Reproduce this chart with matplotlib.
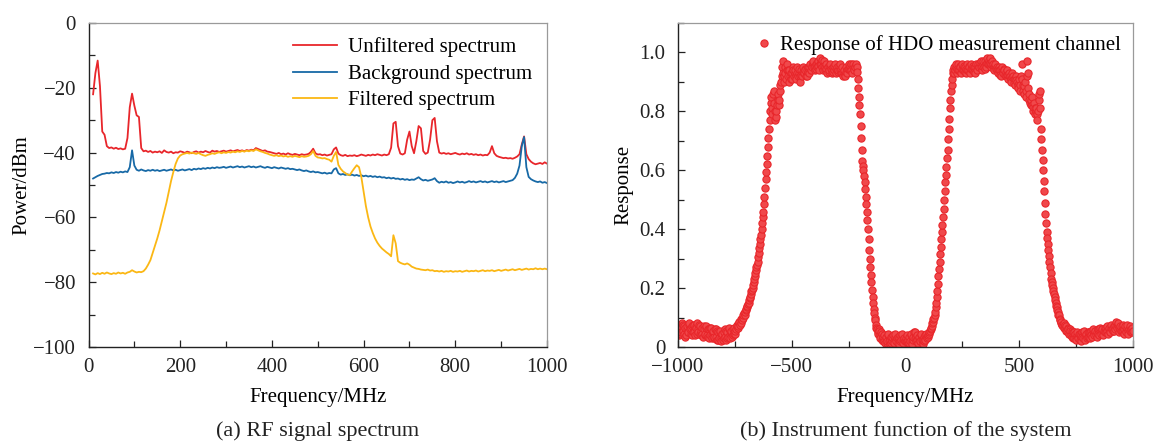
import numpy as np
import matplotlib
matplotlib.use("Agg")
import matplotlib.pyplot as plt
from matplotlib.ticker import MultipleLocator, FuncFormatter

plt.rcParams["font.family"] = ["Liberation Serif", "DejaVu Serif"]
plt.rcParams["mathtext.fontset"] = "stix"

# ---------------- (a) RF signal spectrum, sampled every 5 MHz from 10 MHz ----------------
freq_a = np.arange(10, 1001, 5)

unfiltered = [
    -22.0, -15.5, -11.6, -19.5, -33.5, -34.5, -38.0, -38.6, -38.4, -38.8,   # 10
    -38.5, -38.9, -38.7, -39.0, -38.8, -35.5, -26.0, -21.8, -25.5, -28.5,   # 60
    -29.0, -38.6, -39.6, -39.4, -39.8, -39.5, -40.0, -39.7, -39.9, -39.6,   # 110
    -40.1, -39.3, -39.8, -40.0, -39.7, -40.2, -39.9, -40.0, -39.6, -39.8,   # 160
    -40.1, -39.7, -39.9, -40.2, -39.8, -39.6, -40.0, -39.7, -39.9, -39.5,   # 210
    -39.8, -40.0, -39.4, -39.7, -39.5, -39.8, -39.6, -39.4, -39.7, -39.5,   # 260
    -39.3, -39.6, -39.4, -39.2, -39.5, -39.3, -39.6, -39.2, -39.4, -39.1,   # 310
    -39.3, -38.6, -38.9, -39.2, -39.5, -39.3, -39.7, -39.8, -40.0, -40.2,   # 360
    -40.4, -40.1, -40.5, -40.3, -40.6, -40.2, -40.5, -40.7, -40.4, -40.6,   # 410
    -40.8, -40.5, -40.7, -40.6, -40.4, -39.8, -38.8, -40.2, -40.6, -40.5,   # 460
    -40.8, -40.6, -40.9, -40.7, -40.5, -39.0, -38.4, -40.3, -40.8, -41.0,   # 510
    -40.7, -41.1, -40.9, -41.0, -40.8, -41.1, -40.9, -40.6, -40.8, -41.0,   # 560
    -40.7, -40.9, -40.6, -40.8, -40.5, -40.7, -40.9, -40.6, -40.8, -40.5,   # 610
    -38.5, -31.0, -30.5, -38.0, -40.3, -40.6, -40.2, -36.0, -33.5, -38.0,   # 660
    -40.2, -36.5, -31.8, -32.5, -39.5, -40.4, -40.0, -36.0, -30.0, -29.3,   # 710
    -36.5, -40.0, -40.3, -40.1, -40.4, -40.2, -40.5, -40.3, -40.1, -40.4,   # 760
    -40.6, -40.3, -40.5, -40.2, -40.6, -40.4, -40.7, -40.5, -40.8, -40.6,   # 810
    -40.9, -40.7, -40.8, -40.0, -38.0, -40.2, -41.0, -41.3, -41.5, -41.7,   # 860
    -41.6, -41.8, -41.7, -41.9, -41.6, -41.2, -40.5, -37.5, -35.0, -40.5,   # 910
    -42.0, -42.8, -43.3, -43.6, -43.4, -43.2, -43.5, -43.0, -43.4,          # 960
]

background = [
    -48.0, -47.6, -47.2, -46.9, -46.6, -46.5, -46.3, -46.4, -46.1, -46.3,   # 10
    -46.0, -46.2, -45.9, -46.1, -45.8, -46.0, -44.5, -39.3, -44.0, -45.3,   # 60
    -45.6, -45.2, -45.5, -45.7, -45.4, -45.6, -45.3, -45.6, -45.4, -45.7,   # 110
    -45.5, -45.3, -45.6, -45.4, -45.2, -45.5, -45.3, -45.6, -45.4, -45.2,   # 160
    -45.5, -45.3, -45.1, -45.4, -45.0, -45.2, -44.9, -45.1, -44.8, -45.0,   # 210
    -44.7, -44.9, -44.6, -44.8, -44.5, -44.7, -44.6, -44.4, -44.7, -44.5,   # 260
    -44.3, -44.6, -44.4, -44.2, -44.5, -44.3, -44.6, -44.4, -44.2, -44.5,   # 310
    -44.3, -44.6, -44.4, -44.2, -44.5, -44.7, -44.4, -44.6, -44.8, -44.5,   # 360
    -44.7, -44.9, -44.6, -44.8, -45.0, -44.8, -45.1, -45.0, -45.2, -45.4,   # 410
    -45.2, -45.5, -45.7, -45.5, -45.8, -46.0, -45.8, -46.1, -46.0, -46.2,   # 460
    -46.4, -46.2, -46.5, -46.3, -46.4, -45.2, -44.8, -46.4, -46.8, -46.6,   # 510
    -46.9, -46.7, -47.0, -46.8, -47.1, -46.9, -47.2, -47.0, -47.3, -47.1,   # 560
    -47.4, -47.2, -47.5, -47.3, -47.6, -47.4, -47.7, -47.6, -47.9, -47.7,   # 610
    -48.0, -47.8, -48.1, -48.0, -48.3, -48.1, -48.4, -48.2, -48.5, -48.3,   # 660
    -48.4, -48.0, -47.6, -48.2, -48.6, -48.4, -48.7, -48.5, -48.3, -47.9,   # 710
    -48.8, -49.3, -49.0, -49.2, -48.9, -49.3, -49.1, -49.4, -49.2, -48.9,   # 760
    -49.2, -49.0, -49.3, -49.1, -48.8, -49.1, -48.9, -49.2, -49.0, -48.8,   # 810
    -49.1, -48.9, -49.2, -49.0, -48.8, -49.1, -48.9, -49.2, -49.0, -48.8,   # 860
    -49.1, -48.9, -48.7, -48.5, -47.8, -46.5, -44.0, -38.0, -35.2, -44.5,   # 910
    -47.5, -48.2, -48.6, -48.9, -49.1, -48.9, -49.3, -49.1, -49.4,          # 960
]

filtered = [
    -77.3, -77.6, -77.2, -77.5, -77.1, -77.4, -77.0, -77.3, -77.5, -77.2,   # 10
    -77.4, -77.0, -77.3, -77.1, -77.4, -77.0, -76.8, -76.3, -76.7, -77.0,   # 60
    -76.8, -76.9, -76.6, -75.8, -74.6, -73.2, -71.0, -68.8, -66.5, -64.0,   # 110
    -61.2, -58.5, -55.5, -52.2, -48.8, -46.0, -43.5, -41.8, -40.9, -40.5,   # 160
    -40.3, -40.1, -40.3, -40.0, -40.2, -40.4, -40.1, -40.5, -40.8, -41.0,   # 210
    -40.7, -40.5, -40.2, -40.4, -40.1, -39.9, -40.2, -39.9, -40.1, -39.8,   # 260
    -40.0, -39.7, -39.9, -39.6, -39.8, -39.5, -39.7, -39.4, -39.6, -39.3,   # 310
    -39.5, -39.0, -39.3, -39.6, -39.8, -40.1, -40.3, -40.6, -40.8, -41.0,   # 360
    -40.8, -41.1, -40.9, -41.2, -41.0, -41.3, -41.1, -41.3, -41.0, -41.2,   # 410
    -41.4, -41.1, -41.3, -41.2, -41.0, -40.5, -39.5, -41.0, -41.5, -41.6,   # 460
    -41.8, -41.7, -42.0, -42.2, -42.8, -41.0, -39.8, -43.8, -45.0, -45.8,   # 510
    -46.3, -46.8, -46.9, -45.8, -44.8, -43.9, -44.5, -47.5, -52.0, -56.5,   # 560
    -60.0, -62.8, -64.8, -66.5, -67.8, -68.8, -69.6, -70.2, -70.8, -71.3,   # 610
    -72.0, -65.5, -68.0, -73.5, -74.0, -74.3, -74.5, -74.2, -74.6, -75.2,   # 660
    -75.5, -75.8, -75.9, -76.1, -76.2, -76.3, -76.1, -76.4, -76.3, -76.6,   # 710
    -76.5, -76.7, -76.5, -76.8, -76.6, -76.7, -76.5, -76.8, -76.6, -76.7,   # 760
    -76.5, -76.8, -76.6, -76.4, -76.7, -76.5, -76.6, -76.4, -76.7, -76.5,   # 810
    -76.3, -76.6, -76.4, -76.5, -76.3, -76.6, -76.4, -76.2, -76.5, -76.3,   # 860
    -76.1, -76.4, -76.2, -76.0, -76.3, -76.1, -75.9, -76.2, -76.0, -75.8,   # 910
    -76.1, -75.9, -76.0, -75.7, -76.0, -75.8, -76.0, -75.8, -76.0,          # 960
]

# ---------------- (b) instrument function, sampled every 2.5 MHz ----------------
freq_b = np.arange(-1000, 1000.1, 2.5)

response = [
    # -1000
    0.060, 0.050, 0.040, 0.065, 0.070, 0.045, 0.050, 0.080, 0.075, 0.055,
    0.045, 0.070, 0.065, 0.035, 0.040, 0.060, 0.070, 0.050, 0.050, 0.075,
    # -950
    0.080, 0.060, 0.045, 0.065, 0.070, 0.040, 0.050, 0.075, 0.075, 0.050,
    0.040, 0.070, 0.065, 0.045, 0.080, 0.060, 0.050, 0.075, 0.070, 0.045,
    # -900
    0.040, 0.055, 0.065, 0.045, 0.035, 0.070, 0.060, 0.040, 0.045, 0.065,
    0.070, 0.040, 0.035, 0.060, 0.060, 0.030, 0.040, 0.065, 0.065, 0.040,
    # -850
    0.030, 0.050, 0.055, 0.030, 0.035, 0.060, 0.060, 0.035, 0.025, 0.055,
    0.050, 0.025, 0.030, 0.050, 0.055, 0.030, 0.020, 0.045, 0.045, 0.025,
    # -800
    0.030, 0.050, 0.060, 0.035, 0.025, 0.055, 0.050, 0.030, 0.035, 0.060,
    0.065, 0.040, 0.030, 0.050, 0.055, 0.035, 0.040, 0.060, 0.065, 0.045,
    # -750
    0.045, 0.055, 0.060, 0.070, 0.075, 0.065, 0.070, 0.085, 0.085, 0.075,
    0.080, 0.095, 0.095, 0.090, 0.100, 0.110, 0.115, 0.110, 0.120, 0.125,
    # -700
    0.130, 0.135, 0.140, 0.145, 0.150, 0.160, 0.165, 0.170, 0.180, 0.190,
    0.195, 0.200, 0.210, 0.220, 0.230, 0.240, 0.250, 0.260, 0.270, 0.280,
    # -650
    0.290, 0.305, 0.320, 0.335, 0.350, 0.365, 0.380, 0.400, 0.420, 0.440,
    0.460, 0.485, 0.510, 0.540, 0.570, 0.595, 0.620, 0.650, 0.680, 0.710,
    # -600
    0.740, 0.770, 0.800, 0.830, 0.850, 0.810, 0.790, 0.860, 0.870, 0.830,
    0.800, 0.770, 0.780, 0.800, 0.820, 0.840, 0.860, 0.820, 0.840, 0.870,
    # -550
    0.890, 0.900, 0.920, 0.950, 0.970, 0.930, 0.900, 0.920, 0.950, 0.930,
    0.910, 0.940, 0.960, 0.940, 0.920, 0.900, 0.940, 0.920, 0.910, 0.930,
    # -500
    0.930, 0.910, 0.950, 0.940, 0.920, 0.930, 0.940, 0.920, 0.910, 0.930,
    0.950, 0.920, 0.930, 0.945, 0.920, 0.900, 0.940, 0.925, 0.920, 0.935,
    # -450
    0.950, 0.930, 0.930, 0.945, 0.940, 0.920, 0.920, 0.940, 0.950, 0.935,
    0.930, 0.950, 0.960, 0.940, 0.940, 0.955, 0.950, 0.965, 0.970, 0.950,
    # -400
    0.940, 0.955, 0.960, 0.945, 0.950, 0.965, 0.970, 0.955, 0.940, 0.960,
    0.980, 0.965, 0.960, 0.975, 0.950, 0.940, 0.970, 0.955, 0.940, 0.950,
    # -350
    0.960, 0.945, 0.930, 0.950, 0.950, 0.935, 0.940, 0.955, 0.960, 0.945,
    0.930, 0.940, 0.950, 0.935, 0.940, 0.955, 0.960, 0.945, 0.930, 0.940,
    # -300
    0.950, 0.935, 0.940, 0.955, 0.960, 0.940, 0.930, 0.945, 0.950, 0.930,
    0.920, 0.935, 0.940, 0.925, 0.920, 0.935, 0.950, 0.940, 0.930, 0.945,
    # -250
    0.960, 0.945, 0.940, 0.955, 0.960, 0.940, 0.930, 0.950, 0.960, 0.945,
    0.940, 0.955, 0.950, 0.960, 0.950, 0.935, 0.910, 0.880, 0.850, 0.820,
    # -200
    0.790, 0.750, 0.710, 0.670, 0.630, 0.615, 0.600, 0.580, 0.560, 0.535,
    0.510, 0.485, 0.460, 0.430, 0.400, 0.365, 0.330, 0.300, 0.270, 0.245,
    # -150
    0.220, 0.195, 0.170, 0.150, 0.130, 0.115, 0.100, 0.090, 0.075, 0.065,
    0.060, 0.050, 0.045, 0.060, 0.055, 0.040, 0.030, 0.050, 0.045, 0.025,
    # -100
    0.020, 0.035, 0.040, 0.020, 0.015, 0.030, 0.035, 0.015, 0.020, 0.040,
    0.045, 0.020, 0.010, 0.025, 0.035, 0.015, 0.020, 0.035, 0.040, 0.020,
    # -50
    0.015, 0.035, 0.045, 0.025, 0.020, 0.030, 0.035, 0.015, 0.010, 0.030,
    0.040, 0.020, 0.025, 0.040, 0.045, 0.025, 0.015, 0.025, 0.030, 0.020,
    # 0
    0.020, 0.030, 0.040, 0.020, 0.015, 0.025, 0.035, 0.015, 0.020, 0.040,
    0.045, 0.020, 0.010, 0.025, 0.035, 0.050, 0.050, 0.030, 0.020, 0.035,
    # 50
    0.040, 0.025, 0.015, 0.030, 0.035, 0.020, 0.020, 0.040, 0.045, 0.025,
    0.010, 0.025, 0.035, 0.020, 0.025, 0.040, 0.045, 0.035, 0.030, 0.035,
    # 100
    0.040, 0.045, 0.050, 0.055, 0.060, 0.065, 0.070, 0.080, 0.085, 0.095,
    0.100, 0.110, 0.120, 0.135, 0.150, 0.170, 0.190, 0.215, 0.240, 0.265,
    # 150
    0.290, 0.315, 0.340, 0.365, 0.390, 0.415, 0.440, 0.470, 0.500, 0.530,
    0.560, 0.585, 0.610, 0.640, 0.670, 0.705, 0.740, 0.775, 0.810, 0.840,
    # 200
    0.870, 0.890, 0.910, 0.930, 0.940, 0.950, 0.930, 0.940, 0.950, 0.960,
    0.930, 0.945, 0.960, 0.940, 0.940, 0.955, 0.950, 0.935, 0.930, 0.945,
    # 250
    0.960, 0.940, 0.940, 0.955, 0.950, 0.935, 0.930, 0.945, 0.960, 0.940,
    0.940, 0.955, 0.950, 0.935, 0.930, 0.945, 0.960, 0.945, 0.940, 0.955,
    # 300
    0.950, 0.935, 0.930, 0.950, 0.960, 0.945, 0.940, 0.955, 0.960, 0.950,
    0.950, 0.965, 0.970, 0.950, 0.940, 0.955, 0.960, 0.970, 0.950, 0.945,
    # 350
    0.970, 0.960, 0.950, 0.965, 0.980, 0.960, 0.960, 0.975, 0.980, 0.965,
    0.950, 0.960, 0.970, 0.955, 0.960, 0.950, 0.940, 0.955, 0.960, 0.945,
    # 400
    0.950, 0.940, 0.930, 0.945, 0.950, 0.940, 0.940, 0.925, 0.920, 0.940,
    0.950, 0.935, 0.930, 0.945, 0.940, 0.925, 0.920, 0.935, 0.940, 0.925,
    # 450
    0.910, 0.925, 0.930, 0.915, 0.920, 0.910, 0.900, 0.915, 0.930, 0.920,
    0.910, 0.895, 0.890, 0.910, 0.920, 0.905, 0.900, 0.890, 0.880, 0.895,
    # 500
    0.910, 0.890, 0.870, 0.920, 0.960, 0.910, 0.890, 0.870, 0.860, 0.885,
    0.900, 0.870, 0.850, 0.920, 0.970, 0.930, 0.880, 0.860, 0.840, 0.830,
    # 550
    0.820, 0.840, 0.850, 0.820, 0.800, 0.815, 0.830, 0.810, 0.790, 0.800,
    0.810, 0.790, 0.770, 0.800, 0.840, 0.860, 0.870, 0.810, 0.740, 0.705,
    # 600
    0.670, 0.635, 0.600, 0.565, 0.530, 0.490, 0.450, 0.420, 0.390, 0.370,
    0.350, 0.330, 0.310, 0.290, 0.270, 0.250, 0.230, 0.220, 0.210, 0.200,
    # 650
    0.190, 0.180, 0.170, 0.160, 0.150, 0.140, 0.135, 0.125, 0.120, 0.110,
    0.110, 0.095, 0.090, 0.080, 0.085, 0.075, 0.075, 0.070, 0.080, 0.065,
    # 700
    0.065, 0.075, 0.070, 0.055, 0.055, 0.065, 0.060, 0.045, 0.045, 0.060,
    0.055, 0.040, 0.035, 0.055, 0.050, 0.030, 0.030, 0.050, 0.045, 0.030,
    # 750
    0.025, 0.040, 0.050, 0.035, 0.030, 0.045, 0.045, 0.025, 0.020, 0.040,
    0.050, 0.035, 0.030, 0.050, 0.055, 0.035, 0.025, 0.040, 0.045, 0.030,
    # 800
    0.035, 0.050, 0.050, 0.035, 0.030, 0.050, 0.055, 0.040, 0.035, 0.055,
    0.060, 0.045, 0.040, 0.055, 0.055, 0.040, 0.035, 0.050, 0.060, 0.045,
    # 850
    0.040, 0.060, 0.065, 0.050, 0.045, 0.060, 0.060, 0.045, 0.040, 0.055,
    0.065, 0.050, 0.050, 0.065, 0.070, 0.055, 0.045, 0.060, 0.065, 0.050,
    # 900
    0.050, 0.065, 0.075, 0.060, 0.055, 0.065, 0.070, 0.055, 0.060, 0.075,
    0.085, 0.070, 0.065, 0.075, 0.080, 0.065, 0.050, 0.060, 0.070, 0.055,
    # 950
    0.055, 0.070, 0.075, 0.055, 0.045, 0.060, 0.070, 0.055, 0.050, 0.065,
    0.075, 0.055, 0.045, 0.060, 0.070, 0.055, 0.050, 0.060, 0.065, 0.050,
    # 1000
    0.055,
]

RED = "#e8262b"
BLUE = "#1769a6"
YELLOW = "#fbb714"
FS = 15
TICK_FS = 15
CAPTION_FS = 16

fig = plt.figure(figsize=(11.54, 4.42), dpi=100)
ax1 = fig.add_axes([88.5 / 1154, 1 - 347 / 442, (547 - 88.5) / 1154, 324 / 442])
ax2 = fig.add_axes([678 / 1154, 1 - 347 / 442, (1133 - 678) / 1154, 324 / 442])


def style_axes(ax):
    for side in ("left", "bottom"):
        ax.spines[side].set_color("#222222")
        ax.spines[side].set_linewidth(1.0)
    for side in ("top", "right"):
        ax.spines[side].set_color("#9a9a9a")
        ax.spines[side].set_linewidth(0.9)
    ax.tick_params(which="both", direction="in", top=False, right=False,
                   labelsize=TICK_FS, colors="#222222", width=0.9)
    ax.tick_params(axis="x", which="both", pad=8)
    ax.tick_params(axis="y", which="both", pad=9)
    ax.tick_params(which="major", length=5)
    ax.tick_params(which="minor", length=4)


# Panel (a)
ax1.plot(freq_a, unfiltered, color=RED, lw=1.3, label="Unfiltered spectrum")
ax1.plot(freq_a, background, color=BLUE, lw=1.3, label="Background spectrum")
ax1.plot(freq_a, filtered, color=YELLOW, lw=1.3, label="Filtered spectrum")
ax1.set_xlim(0, 1000)
ax1.set_ylim(-100, 0)
ax1.xaxis.set_major_locator(MultipleLocator(200))
ax1.xaxis.set_minor_locator(MultipleLocator(100))
ax1.yaxis.set_major_locator(MultipleLocator(20))
ax1.yaxis.set_minor_locator(MultipleLocator(10))
style_axes(ax1)
ax1.set_xlabel("Frequency/MHz", fontsize=FS, labelpad=8)
ax1.set_ylabel("Power/dBm", fontsize=FS, labelpad=1)
ax1.legend(loc="upper right", bbox_to_anchor=(1.0, 1.0), frameon=False,
           fontsize=FS, handlelength=2.1, handletextpad=0.55,
           labelspacing=0.33, borderaxespad=0.3)

# Panel (b)
ax2.plot(freq_b, response, linestyle="none", marker="o", markersize=5.2,
         markerfacecolor="#f0484b", markeredgecolor=RED, markeredgewidth=0.8,
         label="Response of HDO measurement channel")
ax2.set_xlim(-1000, 1000)
ax2.set_ylim(0, 1.1)
ax2.xaxis.set_major_locator(MultipleLocator(500))
ax2.xaxis.set_minor_locator(MultipleLocator(250))
ax2.yaxis.set_major_locator(MultipleLocator(0.2))
ax2.yaxis.set_minor_locator(MultipleLocator(0.1))
ax2.yaxis.set_major_formatter(FuncFormatter(lambda v, p: "0" if abs(v) < 1e-9 else f"{v:.1f}"))
style_axes(ax2)
ax2.set_xlabel("Frequency/MHz", fontsize=FS, labelpad=8)
ax2.set_ylabel("Response", fontsize=FS, labelpad=4)
ax2.legend(loc="upper right", bbox_to_anchor=(1.0, 1.0), frameon=False,
           fontsize=FS, numpoints=1, handlelength=0.8, handletextpad=0.35,
           borderaxespad=0.2)

fig.text((88.5 + 547) / 2 / 1154, 1 - 431 / 442, "(a) RF signal spectrum",
         ha="center", va="center", fontsize=CAPTION_FS, color="#222222")
fig.text((678 + 1133) / 2 / 1154, 1 - 431 / 442, "(b) Instrument function of the system",
         ha="center", va="center", fontsize=CAPTION_FS, color="#222222")

fig.savefig("out.png", dpi=100)
